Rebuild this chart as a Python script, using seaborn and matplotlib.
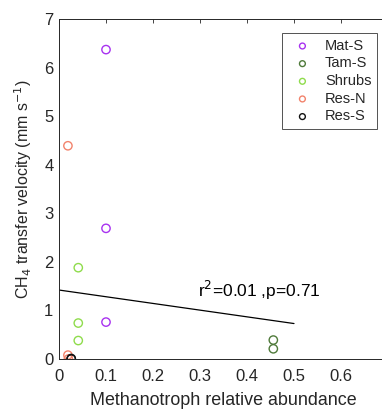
import matplotlib
matplotlib.use("Agg")
import matplotlib.pyplot as plt
import seaborn as sns
import pandas as pd
import numpy as np

sns.set_style("white")
plt.rcParams['font.family'] = ['Liberation Sans', 'DejaVu Sans']

groups = ["Mat-S", "Tam-S", "Shrubs", "Res-N", "Res-S"]
colors = ["#a832f0", "#4f7a3a", "#8fdc4c", "#f2836c", "#111111"]

mat_x = [0.100, 0.100, 0.100]
mat_y = [6.37, 2.69, 0.76]
tam_x = [0.456, 0.456]
tam_y = [0.39, 0.21]
shr_x = [0.041, 0.041, 0.041]
shr_y = [1.88, 0.74, 0.38]
resn_x = [0.019, 0.019, 0.020]
resn_y = [4.39, 0.08, 0.00]
ress_x = [0.026, 0.026]
ress_y = [0.01, 0.00]

fit_x = [0.0, 0.5]
fit_y = [1.42, 0.73]

xs = [mat_x, tam_x, shr_x, resn_x, ress_x]
ys = [mat_y, tam_y, shr_y, resn_y, ress_y]
rows = []
for g, xv, yv in zip(groups, xs, ys):
    for a, b in zip(xv, yv):
        rows.append({"x": a, "y": b, "group": g})
df = pd.DataFrame(rows)

fig = plt.figure(figsize=(3.82, 4.11), dpi=100)
fig.patch.set_edgecolor("white")
fig.patch.set_linewidth(0)
W, H = 382, 411
ax = fig.add_axes([59 / W, 1 - 359 / H, 329 / W, 340 / H])
ax.patch.set_edgecolor("none")

tc = "#262626"
for g, c in zip(groups, colors):
    sub = df[df.group == g]
    sns.scatterplot(data=sub, x="x", y="y", ax=ax, marker="o", s=36,
                    facecolors="none", edgecolor=c, linewidth=1.0,
                    label=g, zorder=3)

sns.lineplot(x=fit_x, y=fit_y, ax=ax, color="black", linewidth=0.9, zorder=2)

ax.set_xlim(0, 0.7)
ax.set_ylim(0, 7)
ax.set_xticks([0, 0.1, 0.2, 0.3, 0.4, 0.5, 0.6])
ax.set_xticklabels(["0", "0.1", "0.2", "0.3", "0.4", "0.5", "0.6"])
ax.set_yticks(range(0, 8))
ax.tick_params(axis="both", direction="in", length=3, width=0.6,
               colors=tc, labelsize=12, top=True, right=False)
ax.tick_params(axis="x", pad=7)
ax.tick_params(axis="y", pad=4)
for s in ax.spines.values():
    s.set_color(tc)
    s.set_linewidth(0.7)
ax.spines["right"].set_visible(False)
ax.set_xlabel("Methanotroph relative abundance", fontsize=12.9, color=tc, labelpad=6)
ax.set_ylabel("CH$_4$ transfer velocity (mm s$^{-1}$)", fontsize=11.5, color=tc, labelpad=7)

ax.text(0.296, 1.28, "r$^2$=0.01 ,p=0.71", fontsize=12.5, color="black")

leg = ax.legend(loc="upper left", bbox_to_anchor=((282 - 59) / 329, 1 - (33 - 19) / 340),
                borderaxespad=0, frameon=True, fancybox=False, fontsize=10.5,
                handletextpad=0.55, borderpad=0.4, labelspacing=0.25,
                handlelength=2.0, markerscale=0.7)
leg.get_frame().set_edgecolor(tc)
leg.get_frame().set_linewidth(0.7)
for t in leg.get_texts():
    t.set_color(tc)

fig.savefig("out.png", dpi=100)
